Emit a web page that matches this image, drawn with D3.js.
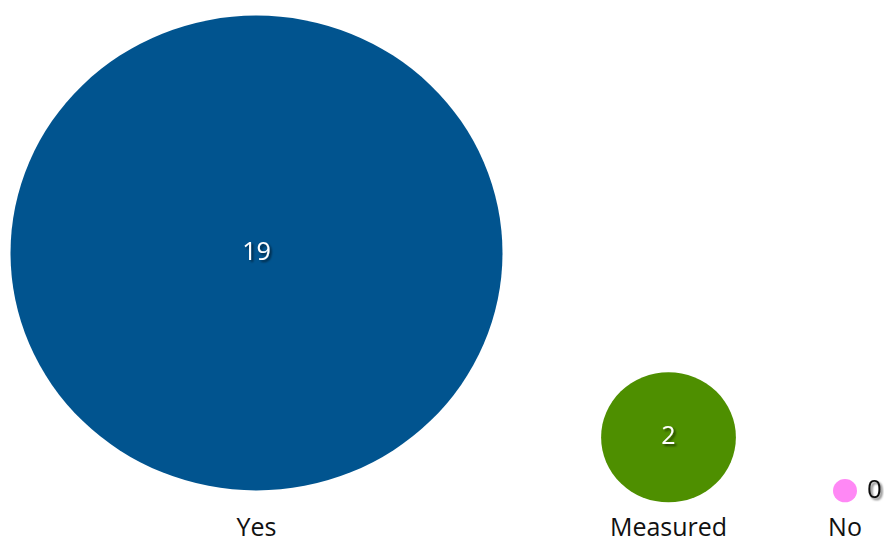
<!DOCTYPE html>
<html>
<head>
<meta charset="utf-8">
<script src="https://cdn.jsdelivr.net/npm/d3@7"></script>
<style>
  html, body { margin: 0; padding: 0; background: #fff; }
  svg { display: block; }
  text { font-family: "Open Sans", "Noto Sans", sans-serif; }
</style>
</head>
<body>
<svg id="chart" width="884" height="543"></svg>
<script>
// Response counts per answer
const categories = ["Yes", "Measured", "No"];
const counts = [19, 2, 0];
const colors = ["#01548f", "#4e8f00", "#ff88f5"];

const svg = d3.select("#chart");

// Bubble horizontal centres and vertical positions
const xPos = d3.scaleOrdinal().domain(categories).range([256.5, 668.5, 845]);
const yCenter = d3.scaleOrdinal().domain(categories).range([253, 437.3, 490.7]);

// Bubble size scale
const r = d3.scalePow().exponent(0.64).domain([0, 19]).range([12, 246]);
const squash = 0.965;

const defs = svg.append("defs");
const f = defs.append("filter").attr("id", "shadow")
  .attr("x", "-50%").attr("y", "-50%").attr("width", "200%").attr("height", "200%");
f.append("feDropShadow").attr("dx", 2).attr("dy", 2).attr("stdDeviation", 1.2)
  .attr("flood-color", "#000").attr("flood-opacity", 0.55);

const data = categories.map((c, i) => ({ cat: c, v: counts[i], color: colors[i] }));

const g = svg.append("g");

g.selectAll("ellipse").data(data).join("ellipse")
  .attr("cx", d => xPos(d.cat))
  .attr("cy", d => yCenter(d.cat))
  .attr("rx", d => r(d.v))
  .attr("ry", d => r(d.v) * squash)
  .attr("fill", d => d.color);

// Value labels: inside large bubbles, beside the small one
const inside = d => r(d.v) > 30;
g.selectAll("text.val").data(data).join("text")
  .attr("class", "val")
  .attr("filter", "url(#shadow)")
  .attr("font-size", d => inside(d) ? 25 : 26)
  .attr("dominant-baseline", "central")
  .attr("text-anchor", d => inside(d) ? "middle" : "start")
  .attr("x", d => inside(d) ? xPos(d.cat) : xPos(d.cat) + r(d.v) + 10)
  .attr("y", d => yCenter(d.cat) - 3)
  .attr("fill", d => inside(d) ? "#fff" : "#111")
  .text(d => d.v);

// Category labels along the bottom
g.selectAll("text.cat").data(data).join("text")
  .attr("class", "cat")
  .attr("font-size", 25)
  .attr("text-anchor", "middle")
  .attr("x", d => xPos(d.cat))
  .attr("y", 536)
  .attr("fill", "#111")
  .text(d => d.cat);
</script>
</body>
</html>
